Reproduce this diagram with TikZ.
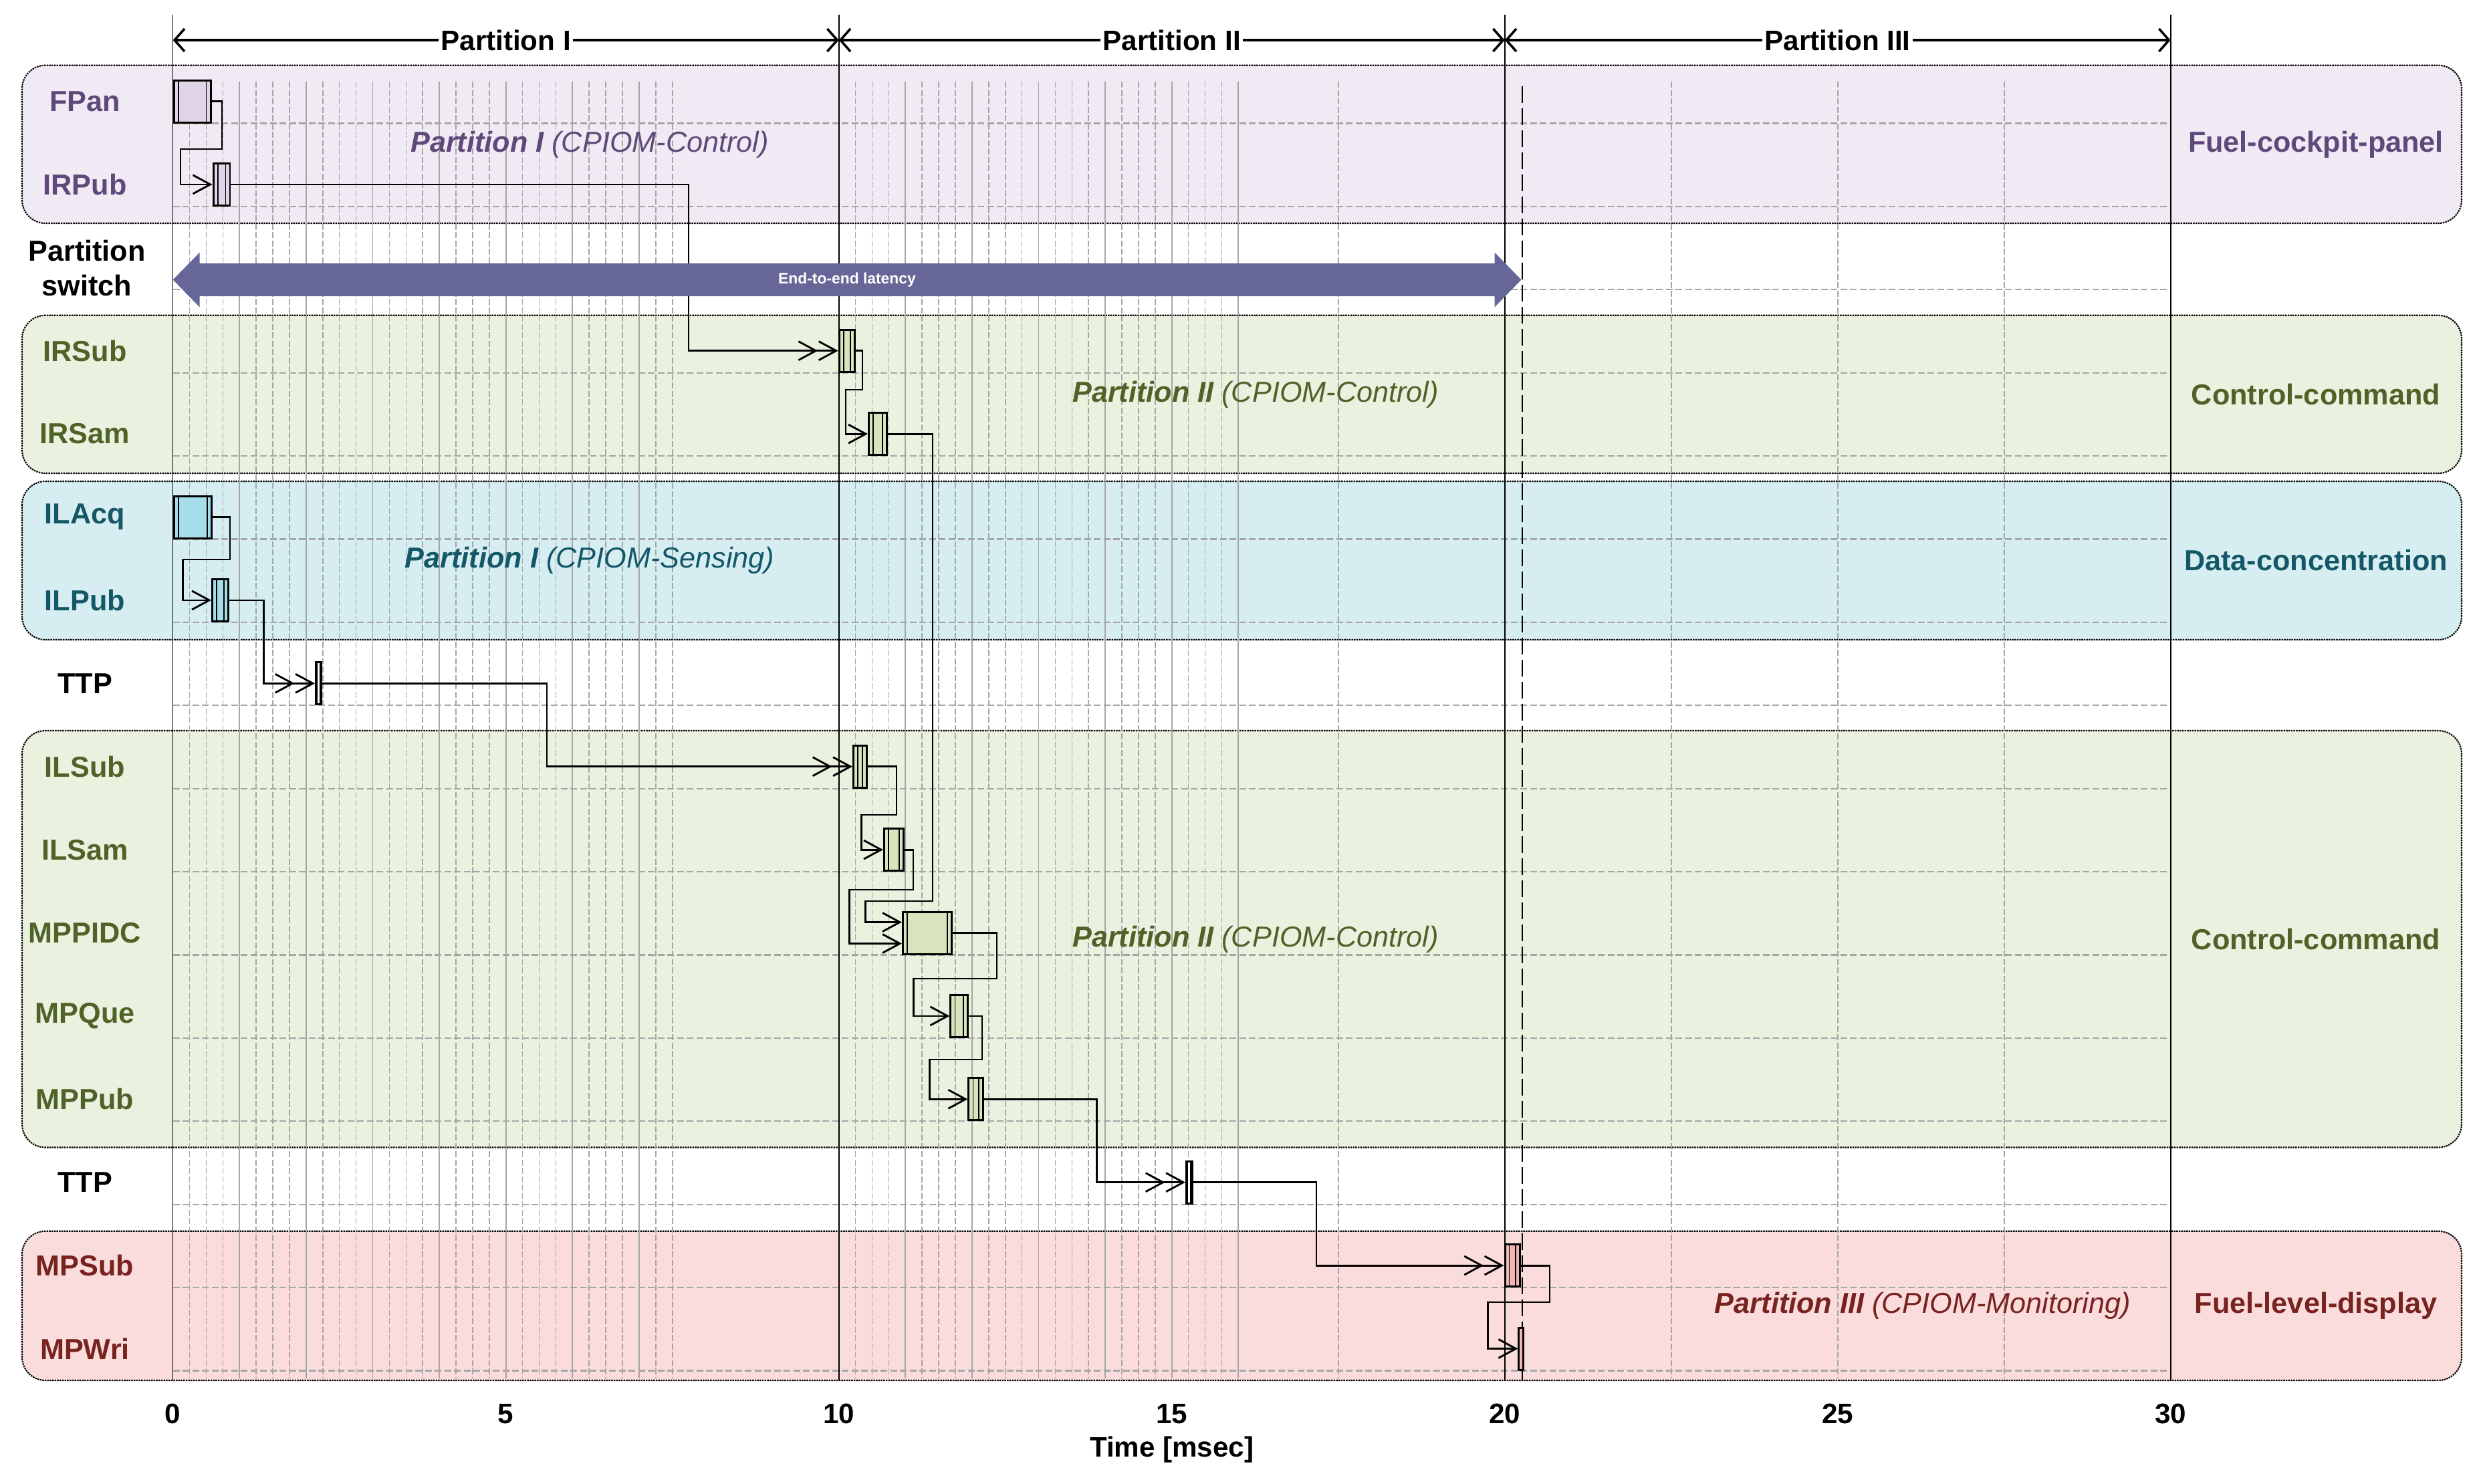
\documentclass[tikz,border=0pt]{standalone}
\usepackage{fontspec}
\setmainfont{Liberation Sans}
\usetikzlibrary{arrows.meta, calc}

\definecolor{purpleTxt}{RGB}{95,73,122}
\definecolor{purpleBg}{RGB}{239,234,243}
\definecolor{purpleTask}{RGB}{224,213,232}
\definecolor{greenTxt}{RGB}{79,98,40}
\definecolor{greenBg}{RGB}{234,241,223}
\definecolor{greenTask}{RGB}{215,228,189}
\definecolor{tealTxt}{RGB}{20,88,104}
\definecolor{tealBg}{RGB}{214,237,242}
\definecolor{tealTask}{RGB}{165,221,232}
\definecolor{redTxt}{RGB}{120,35,32}
\definecolor{redBg}{RGB}{249,220,219}
\definecolor{redTask}{RGB}{242,183,181}
\definecolor{latency}{RGB}{102,102,153}
\definecolor{gridgray}{RGB}{166,166,166}

% time (msec) -> x, row index -> baseline y
\newcommand{\tx}[1]{2.587+0.996*(#1)}
\newcommand{\by}[1]{-1.845-1.244*(#1)}

\tikzset{
  grp/.style={draw=black, line width=0.6pt, dash pattern=on 0.25mm off 0.12mm, rounded corners=0.35cm},
  gridd/.style={draw=gridgray, line width=0.45pt, dash pattern=on 0.9mm off 0.35mm},
  grids/.style={draw=gridgray, line width=0.5pt},
  rowline/.style={draw=gridgray, line width=0.6pt, dash pattern=on 1mm off 0.45mm},
  task/.style={draw, line width=0.85pt, rectangle, inner sep=0pt, minimum height=0.63cm, anchor=south west,
    path picture={
      \draw[line width=0.45pt] ([xshift=1.9pt]path picture bounding box.north west) -- ([xshift=1.9pt]path picture bounding box.south west);
      \draw[line width=0.45pt] ([xshift=-1.9pt]path picture bounding box.north east) -- ([xshift=-1.9pt]path picture bounding box.south east);
    }},
  sync/.style={line width=0.8pt, -{Straight Barb[length=2.6mm,width=2.8mm]}},
  async/.style={line width=0.8pt, -{Straight Barb[length=2.6mm,width=2.8mm,sep=0pt]Straight Barb[length=2.6mm,width=2.8mm]}},
  hdr/.style={line width=1pt, {Straight Barb[length=1.5mm,width=3.4mm]}-{Straight Barb[length=1.5mm,width=3.4mm]}},
  hdrlbl/.style={fill=white, inner sep=1pt, font=\fontsize{12}{14}\selectfont\bfseries},
  rowlbl/.style={font=\fontsize{12.3}{14.8}\selectfont\bfseries, align=center},
  partlbl/.style={font=\fontsize{12.3}{14.8}\selectfont\itshape},
  domlbl/.style={font=\fontsize{12.3}{14.8}\selectfont\bfseries},
  axlbl/.style={font=\fontsize{12}{14}\selectfont\bfseries},
}

\begin{document}
\begin{tikzpicture}
\useasboundingbox (0,0) rectangle (37.08,-22.19);

% application groups
\draw[grp, fill=purpleBg] (0.33,-0.977) rectangle (36.82,-3.34);
\draw[grp, fill=greenBg] (0.33,-4.717) rectangle (36.82,-7.08);
\draw[grp, fill=tealBg] (0.33,-7.20) rectangle (36.82,-9.57);
\draw[grp, fill=greenBg] (0.33,-10.93) rectangle (36.82,-17.165);
\draw[grp, fill=redBg] (0.33,-18.417) rectangle (36.82,-20.65);

% grid
\foreach \i in {0,...,15}
  \draw[rowline] ({\tx{0}},{\by{\i}}) -- ({\tx{30}},{\by{\i}});
\foreach \k in {1,...,30}
  \draw[gridd] ({\tx{\k/4}},-1.22) -- ({\tx{\k/4}},-20.62);
\foreach \k in {41,...,64}
  \draw[gridd] ({\tx{\k/4}},-1.22) -- ({\tx{\k/4}},-20.62);
\foreach \t in {17.5,22.5,25,27.5}
  \draw[gridd] ({\tx{\t}},-1.22) -- ({\tx{\t}},-20.62);
\foreach \t in {1,2,3,4,5,6,7,11,12,13,14,15,16}
  \draw[grids] ({\tx{\t}},-1.22) -- ({\tx{\t}},-20.62);
\foreach \t in {0,10,20,30}
  \draw[line width=0.45pt] ({\tx{\t}},-0.22) -- ({\tx{\t}},-20.65);
\draw[line width=0.6pt, dash pattern=on 2.5mm off 0.8mm] (22.77,-1.29) -- (22.77,-20.65);

% partitions on top
\draw[hdr] ({\tx{0}},-0.6) -- node[hdrlbl] (hdr1) {Partition I} ({\tx{10}},-0.6);
\draw[hdr] ({\tx{10}},-0.6) -- node[hdrlbl] (hdr2) {Partition II} ({\tx{20}},-0.6);
\draw[hdr] ({\tx{20}},-0.6) -- node[hdrlbl] (hdr3) {Partition III} ({\tx{30}},-0.6);

% row labels
\foreach \i/\lbl/\col in {0/FPan/purpleTxt, 1/IRPub/purpleTxt, 3/IRSub/greenTxt, 4/IRSam/greenTxt,
    5/ILAcq/tealTxt, 6/ILPub/tealTxt, 7/TTP/black, 8/ILSub/greenTxt, 9/ILSam/greenTxt,
    10/MPPIDC/greenTxt, 11/MPQue/greenTxt, 12/MPPub/greenTxt, 13/TTP/black,
    14/MPSub/redTxt, 15/MPWri/redTxt}
  \node[rowlbl, text=\col] (row\i) at (1.27,{\by{\i}+0.33}) {\lbl};
\node[rowlbl] (row2) at (1.3,{\by{2}+0.32}) {Partition\\switch};

% partition and application names
\node[partlbl, text=purpleTxt] (partA) at (8.82,-2.16) {\textbf{Partition I} (CPIOM-Control)};
\node[partlbl, text=greenTxt] (partB) at (18.78,-5.90) {\textbf{Partition II} (CPIOM-Control)};
\node[partlbl, text=tealTxt] (partC) at (8.82,-8.385) {\textbf{Partition I} (CPIOM-Sensing)};
\node[partlbl, text=greenTxt] (partD) at (18.78,-14.05) {\textbf{Partition II} (CPIOM-Control)};
\node[partlbl, text=redTxt] (partE) at (28.76,-19.53) {\textbf{Partition III} (CPIOM-Monitoring)};
\node[domlbl, text=purpleTxt] (appA) at (34.64,-2.16) {Fuel-cockpit-panel};
\node[domlbl, text=greenTxt] (appB) at (34.64,-5.90) {Control-command};
\node[domlbl, text=tealTxt] (appC) at (34.64,-8.385) {Data-concentration};
\node[domlbl, text=greenTxt] (appD) at (34.64,-14.05) {Control-command};
\node[domlbl, text=redTxt] (appE) at (34.64,-19.53) {Fuel-level-display};

% time axis
\foreach \t in {0,5,...,30}
  \node[axlbl] (ax\t) at ({\tx{\t}},-21.15) {\t};
\node[axlbl] (axtitle) at ({\tx{15}},-21.69) {Time [msec]};

% tasks
\node[task, fill=purpleTask, minimum width=0.547cm] (fpan) at (2.59,{\by{0}}) {};
\node[task, fill=purpleTask, minimum width=0.249cm] (irpub) at (3.176,{\by{1}}) {};
\node[task, fill=greenTask, minimum width=0.233cm] (irsub) at (12.537,{\by{3}}) {};
\node[task, fill=greenTask, minimum width=0.27cm] (irsam) at (12.98,{\by{4}}) {};
\node[task, fill=tealTask, minimum width=0.563cm] (ilacq) at (2.587,{\by{5}}) {};
\node[task, fill=tealTask, minimum width=0.24cm] (ilpub) at (3.16,{\by{6}}) {};
\node[task, fill=white, minimum width=0.085cm] (ttpa) at (4.71,{\by{7}}) {};
\node[task, fill=greenTask, minimum width=0.204cm] (ilsub) at (12.75,{\by{8}}) {};
\node[task, fill=greenTask, minimum width=0.29cm] (ilsam) at (13.21,{\by{9}}) {};
\node[task, fill=greenTask, minimum width=0.73cm] (mppidc) at (13.49,{\by{10}}) {};
\node[task, fill=greenTask, minimum width=0.256cm] (mpque) at (14.204,{\by{11}}) {};
\node[task, fill=greenTask, minimum width=0.22cm] (mppub) at (14.474,{\by{12}}) {};
\node[task, fill=white, minimum width=0.086cm] (ttpb) at (17.73,{\by{13}}) {};
\node[task, fill=redTask, minimum width=0.225cm] (mpsub) at (22.495,{\by{14}}) {};
\node[task, fill=redTask, minimum width=0.066cm] (mpwri) at (22.704,{\by{15}}) {};

% data flow
\draw[sync] (fpan.east) -| (3.32,-2.23) -| ([xshift=-4.76mm]irpub.west) -- (irpub.west);
\draw[async] (irpub.east) -| ([xshift=-2.237cm]irsub.west) -- (irsub.west);
\draw[sync] (irsub.east) -| (12.90,-5.83) -| ([xshift=-3.3mm]irsam.west) -- (irsam.west);
\draw[sync] (irsam.east) -| (13.95,-13.48) -| ([xshift=-5.46mm,yshift=1.6mm]mppidc.west) -- ([yshift=1.6mm]mppidc.west);
\draw[sync] (ilacq.east) -| (3.44,-8.37) -| ([xshift=-4.24mm]ilpub.west) -- (ilpub.west);
\draw[async] (ilpub.east) -| ([xshift=-7.63mm]ttpa.west) -- (ttpa.west);
\draw[async] (ttpa.east) -| ([xshift=-4.57cm]ilsub.west) -- (ilsub.west);
\draw[sync] (ilsub.east) -| (13.41,-12.19) -| ([xshift=-3.22mm]ilsam.west) -- (ilsam.west);
\draw[sync] (ilsam.east) -| (13.66,-13.31) -| ([xshift=-7.86mm,yshift=-1.6mm]mppidc.west) -- ([yshift=-1.6mm]mppidc.west);
\draw[sync] (mppidc.east) -| (14.91,-14.64) -| ([xshift=-5.41mm]mpque.west) -- (mpque.west);
\draw[sync] (mpque.east) -| (14.69,-15.85) -| ([xshift=-5.66mm]mppub.west) -- (mppub.west);
\draw[async] (mppub.east) -| ([xshift=-1.322cm]ttpb.west) -- (ttpb.west);
\draw[async] (ttpb.east) -| ([xshift=-2.805cm]mpsub.west) -- (mpsub.west);
\draw[sync] (mpsub.east) -| (23.18,-19.48) -| ([xshift=-4.49mm]mpwri.west) -- (mpwri.west);

% end-to-end latency
\fill[latency] (2.587,-4.185) -- (2.987,-3.775) -- (2.987,-3.94) -- (22.355,-3.94) -- (22.355,-3.775)
  -- (22.755,-4.185) -- (22.355,-4.595) -- (22.355,-4.43) -- (2.987,-4.43) -- (2.987,-4.595) -- cycle;
\node[text=white, font=\fontsize{6.5}{7}\selectfont\bfseries] (lat) at (12.67,-4.185) {End-to-end latency};
\end{tikzpicture}
\end{document}
